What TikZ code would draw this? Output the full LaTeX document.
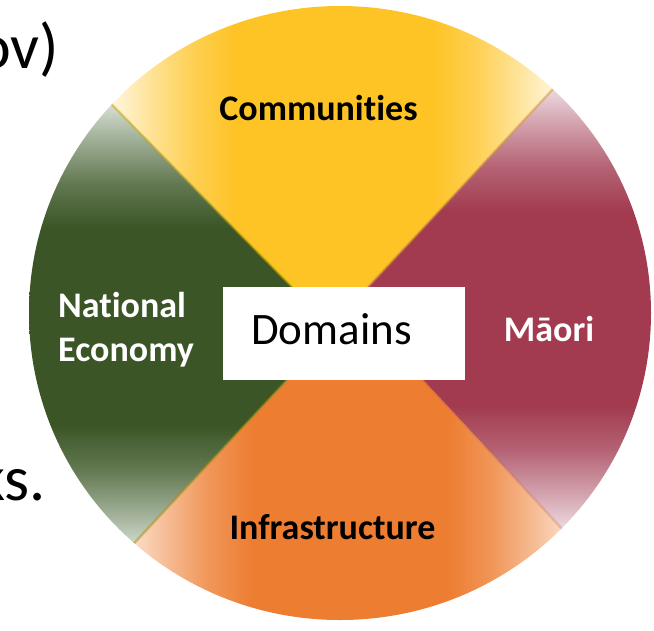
\documentclass[tikz,border=0pt]{standalone}
\usepackage{fontspec}
\setmainfont{Carlito}[Ligatures=NoCommon]
\usetikzlibrary{calc}

% sector colours: full tone and the pale tone they fade to at the rim
\definecolor{commMain}{HTML}{FEC324}
\definecolor{commEdge}{HTML}{FEF6DE}
\definecolor{maoriMain}{HTML}{A23B50}
\definecolor{maoriEdge}{HTML}{EEDCE2}
\definecolor{infraMain}{HTML}{ED7D31}
\definecolor{infraEdge}{HTML}{FBE2D0}
\definecolor{econMain}{HTML}{3B5526}
\definecolor{econEdge}{HTML}{D8E1D5}

% fade profile: pale at both ends, full tone across the middle
\newcommand\mksectorshading[4]{%
  \csname pgfdeclare#2shading\endcsname{#1}{100bp}{%
    color(0bp)=(#3); color(25bp)=(#3);
    color(29bp)=(#4!35!#3); color(34bp)=(#4!75!#3);
    color(39bp)=(#4); color(61bp)=(#4);
    color(66bp)=(#4!75!#3); color(71bp)=(#4!35!#3);
    color(75bp)=(#3); color(100bp)=(#3)}}
\mksectorshading{commShade}{horizontal}{commEdge}{commMain}
\mksectorshading{infraShade}{horizontal}{infraEdge}{infraMain}
\mksectorshading{econShade}{vertical}{econEdge}{econMain}
\mksectorshading{maoriShade}{vertical}{maoriEdge}{maoriMain}

\begin{document}
\begin{tikzpicture}[x=1pt,y=-1pt,
  lbl/.style={font=\fontsize{36}{43}\selectfont\bfseries, inner sep=0pt, anchor=base},
  frag/.style={font=\fontsize{64}{76}\selectfont, inner sep=0pt, text=black, anchor=base east},
  seam/.style={line width=2.4pt, opacity=0.5},
  domainbox/.style={fill=white, draw=none, inner sep=0pt, minimum width=242pt, minimum height=93pt}]

\useasboundingbox (0,0) rectangle (654,630);

% dividing lines: where they meet the central box and points beyond the rim
\coordinate (B1) at (292,287);  \coordinate (A1) at (58,50);
\coordinate (B2) at (368,287);  \coordinate (A2) at (611,27);
\coordinate (B3) at (287,380);  \coordinate (A3) at (80,601);
\coordinate (B4) at (423,380);  \coordinate (A4) at (608,578);
\coordinate (M)  at (340,333);

\begin{scope}
  \clip (340,313) ellipse [x radius=311, y radius=307];
  % Communities (top)
  \begin{scope}
    \clip (A1) -- (B1) -- (M) -- (B2) -- (A2) -- (760,-100) -- (-100,-100) -- cycle;
    \shade[shading=commShade] (112,0) rectangle (556,340);
  \end{scope}
  % Maori (right)
  \begin{scope}
    \clip (A2) -- (B2) -- (M) -- (B4) -- (A4) -- (760,740) -- (760,-100) -- cycle;
    \shade[shading=maoriShade] (330,87) rectangle (660,530);
  \end{scope}
  % Infrastructure (bottom)
  \begin{scope}
    \clip (A4) -- (B4) -- (M) -- (B3) -- (A3) -- (-100,740) -- (760,740) -- cycle;
    \shade[shading=infraShade] (128,320) rectangle (572,630);
  \end{scope}
  % National Economy (left)
  \begin{scope}
    \clip (A3) -- (B3) -- (M) -- (B1) -- (A1) -- (-100,-100) -- (-100,740) -- cycle;
    \shade[shading=econShade] (20,103) rectangle (350,550);
  \end{scope}
  % soft seams between neighbouring sectors
  \draw[seam, color=olive!55!commMain] (B1) -- (A1);
  \draw[seam, color=brown!70!commMain] (B2) -- (A2);
  \draw[seam, color=olive!70!infraMain] (B3) -- (A3);
  \draw[seam, color=maoriMain!60!infraMain, opacity=0.25] (B4) -- (A4);
\end{scope}

% central box
\node[domainbox] (domainsbox) at (344,333.5) {};
\node[font=\fontsize{45}{54}\selectfont, inner sep=0pt, anchor=base] (domains) at (331.5,344) {Domains};

% sector labels
\node[lbl, text=black] (communities) at (318.5,120) {Communities};
\node[lbl, text=black] (infrastructure) at (332.5,539) {Infrastructure};
\node[lbl, text=white] (maori) at (549,341) {Māori};
\node[lbl, text=white, anchor=base west] (national) at (58,317) {National};
\node[lbl, text=white, anchor=base west] (economy) at (58,361) {Economy};

% text of the surrounding slide, cut off at the left edge
\node[frag] (fragtop) at (59,68) {ov)};
\node[frag] (fragmid) at (46,500) {ks.};
\node[frag, text height=10pt, text depth=0pt, text=black!60] (fragdot) at (1.5,553) {.};
\end{tikzpicture}
\end{document}
